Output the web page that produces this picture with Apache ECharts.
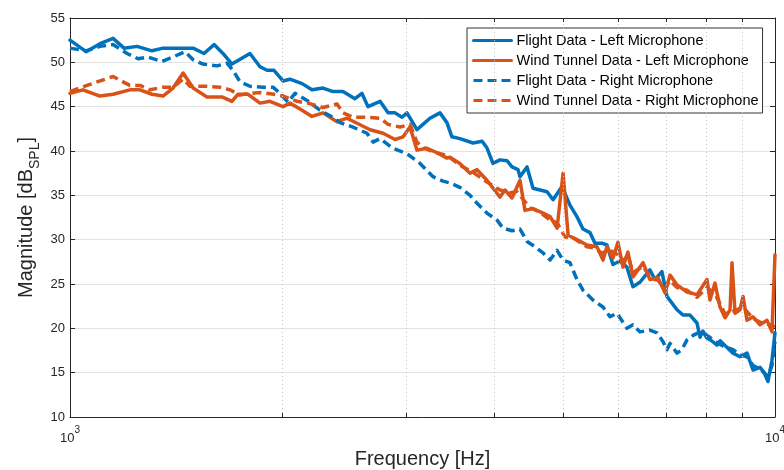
<!DOCTYPE html>
<html>
<head>
<meta charset="utf-8">
<title>Magnitude spectra</title>
<script src="https://cdn.jsdelivr.net/npm/echarts@6/dist/echarts.min.js"></script>
<style>
  html, body { margin: 0; padding: 0; background: #fff; }
  #chart { width: 784px; height: 470px; }
</style>
</head>
<body>
<div id="chart"></div>
<script>
const seriesNames = [
  'Flight Data - Left Microphone',
  'Wind Tunnel Data - Left Microphone',
  'Flight Data - Right Microphone',
  'Wind Tunnel Data - Right Microphone'
]

// values, frequency in Hz / magnitude in dB
const flightLeftHz = [1000, 1054, 1103, 1151, 1193, 1245, 1307, 1355, 1495, 1549, 1601, 1648, 1697, 1800, 1860, 1903, 1947, 2005, 2051, 2134, 2204, 2285, 2361, 2439, 2536, 2595, 2647, 2753, 2826, 2891, 2958, 3006, 3105, 3167, 3240, 3348, 3425, 3481, 3573, 3730, 3842, 3900, 3981, 4073, 4168, 4236, 4320, 4348, 4449, 4537, 4750, 4844, 4875, 4988, 5118, 5237, 5341, 5464, 5555, 5683, 5776, 5890, 6026, 6166, 6288, 6433, 6646, 6756, 6912, 7026, 7261, 7404, 7576, 7751, 7828, 7900, 8008, 8130, 8274, 8360, 8437, 8718, 8920, 9127, 9308, 9522, 9650, 9774, 9902, 10000]
const flightLeftDb = [52.5, 51.2, 52.1, 52.7, 51.6, 51.8, 51.3, 51.6, 51.6, 51.0, 52.0, 51.0, 49.8, 51.0, 49.5, 49.1, 49.1, 47.9, 48.1, 47.6, 46.9, 47.1, 46.7, 46.7, 45.9, 46.5, 45.0, 45.6, 44.3, 44.3, 43.8, 44.3, 42.4, 43.0, 43.7, 44.3, 43.2, 41.6, 41.4, 40.9, 41.1, 40.4, 38.6, 39.0, 38.9, 38.2, 37.9, 37.1, 38.2, 35.8, 35.4, 34.5, 34.3, 36.0, 33.9, 32.6, 31.2, 30.8, 29.6, 29.6, 29.4, 27.2, 27.6, 26.9, 24.7, 25.2, 26.6, 25.5, 26.4, 23.6, 22.1, 21.5, 21.5, 20.6, 19.0, 19.7, 18.9, 18.6, 18.1, 18.6, 18.3, 17.2, 16.8, 17.2, 15.3, 15.6, 15.0, 14.0, 16.4, 19.5]

const tunnelLeftHz = [1000, 1043, 1103, 1151, 1216, 1257, 1307, 1355, 1400, 1447, 1495, 1564, 1643, 1697, 1731, 1788, 1860, 1921, 2005, 2051, 2134, 2204, 2285, 2392, 2471, 2665, 2780, 2891, 2968, 3036, 3105, 3210, 3317, 3425, 3459, 3573, 3694, 3779, 3903, 4073, 4140, 4236, 4348, 4419, 4537, 4688, 4797, 4908, 5005, 5088, 5237, 5411, 5591, 5702, 5776, 5890, 5987, 6086, 6186, 6288, 6498, 6646, 6823, 6982, 7097, 7261, 7502, 7751, 8008, 8087, 8220, 8356, 8494, 8635, 8690, 8776, 8920, 9009, 9127, 9308, 9522, 9743, 9902, 10000]
const tunnelLeftDb = [46.5, 46.9, 46.2, 46.4, 46.9, 46.9, 46.4, 46.2, 47.1, 48.8, 47.1, 46.1, 46.1, 45.6, 46.4, 46.4, 45.4, 45.6, 45.0, 45.4, 44.6, 43.9, 44.3, 43.3, 43.7, 42.4, 42.0, 41.3, 41.6, 42.7, 40.1, 40.3, 39.8, 39.2, 39.3, 38.6, 37.5, 37.9, 36.7, 34.8, 35.6, 34.7, 36.7, 33.3, 33.5, 33.0, 32.6, 31.3, 37.5, 30.5, 30.0, 29.4, 29.2, 27.7, 29.2, 27.9, 29.7, 26.9, 28.6, 25.8, 27.4, 25.5, 25.7, 24.0, 26.0, 24.9, 24.1, 23.8, 25.5, 23.2, 25.1, 22.4, 21.2, 22.1, 27.4, 21.7, 22.1, 23.6, 20.9, 21.3, 20.4, 20.9, 19.6, 28.3]

const flightRightHz = [1000, 1054, 1103, 1151, 1205, 1249, 1290, 1350, 1400, 1456, 1495, 1544, 1616, 1670, 1703, 1742, 1800, 1878, 1941, 1986, 2038, 2085, 2169, 2262, 2361, 2415, 2520, 2638, 2691, 2753, 2872, 3006, 3137, 3273, 3381, 3459, 3573, 3694, 3779, 3903, 4034, 4114, 4236, 4348, 4449, 4566, 4688, 4797, 4908, 5005, 5118, 5237, 5341, 5518, 5702, 5834, 5968, 6166, 6288, 6433, 6646, 6800, 6936, 7026, 7097, 7261, 7380, 7502, 7651, 7828, 8008, 8274, 8437, 8718, 8920, 9127, 9308, 9522, 9774, 9902, 10000]
const flightRightDb = [51.6, 51.3, 51.8, 52.0, 51.0, 50.4, 50.6, 50.1, 50.6, 51.2, 50.3, 49.8, 49.6, 49.9, 49.1, 47.8, 47.3, 47.2, 47.2, 46.5, 45.5, 46.5, 45.7, 44.6, 43.8, 43.2, 42.7, 42.0, 41.0, 41.4, 40.3, 39.7, 38.6, 37.1, 36.6, 36.4, 35.9, 35.0, 34.1, 33.0, 32.2, 31.3, 31.0, 31.2, 29.8, 29.2, 28.5, 27.7, 28.8, 27.7, 27.4, 25.5, 24.3, 23.2, 22.4, 21.3, 21.7, 20.0, 20.4, 19.6, 19.8, 19.5, 18.5, 17.6, 18.3, 17.2, 17.6, 18.7, 19.2, 19.6, 19.2, 18.4, 18.0, 17.6, 17.0, 16.8, 15.8, 15.4, 14.6, 15.8, 18.5]

const tunnelRightHz = [1000, 1057, 1151, 1189, 1216, 1257, 1299, 1355, 1400, 1447, 1480, 1564, 1632, 1686, 1742, 1800, 1860, 1947, 2005, 2099, 2176, 2285, 2392, 2439, 2520, 2638, 2753, 2826, 2938, 3036, 3105, 3167, 3273, 3425, 3573, 3609, 3730, 3903, 4073, 4209, 4305, 4494, 4642, 4797, 4908, 5037, 5170, 5411, 5518, 5683, 5834, 5987, 6086, 6186, 6288, 6498, 6646, 6823, 6982, 7097, 7261, 7502, 7751, 8008, 8220, 8494, 8776, 9009, 9308, 9522, 9743, 10000]
const tunnelRightDb = [46.7, 47.4, 48.4, 47.8, 47.4, 47.4, 46.9, 47.2, 47.2, 48.1, 47.3, 47.3, 47.2, 46.9, 46.3, 46.5, 46.6, 46.4, 46.2, 45.6, 45.4, 44.9, 45.3, 44.3, 43.8, 43.8, 43.7, 43.0, 42.7, 43.0, 41.0, 40.4, 39.9, 39.5, 38.4, 38.2, 37.6, 36.5, 35.6, 35.3, 35.4, 33.6, 33.1, 32.2, 31.9, 30.3, 30.2, 29.2, 29.1, 28.5, 28.8, 28.3, 27.6, 28.2, 26.3, 27.0, 25.8, 25.4, 24.5, 25.4, 24.6, 24.3, 23.5, 24.6, 23.9, 21.6, 22.0, 22.4, 21.1, 20.7, 20.5, 20.2]

const minorTicksHz = [2000, 3000, 4000, 5000, 6000, 7000, 8000, 9000]
const yTicks = [10, 15, 20, 25, 30, 35, 40, 45, 50, 55]

const blue = '#0072BD'
const orange = '#D95319'
const ink = '#262626'
const font = 'Liberation Sans, Arial, Helvetica, sans-serif'

function pairs(xs, ys) {
  return xs.map((x, i) => [x, ys[i]])
}

const yMin = yTicks[0]
const yMax = yTicks[yTicks.length - 1]
const yStep = yTicks[1] - yTicks[0]

// minor grid: dotted verticals plus short inward ticks top and bottom
const minorLines = []
minorTicksHz.forEach(f => {
  minorLines.push([{ coord: [f, yMin], lineStyle: { color: '#c4c4c4', type: [1, 3], width: 1 } }, { coord: [f, yMax] }])
  minorLines.push([{ coord: [f, yMin], lineStyle: { color: ink, type: 'solid', width: 1 } }, { coord: [f, yMin + 0.45] }])
  minorLines.push([{ coord: [f, yMax - 0.45], lineStyle: { color: ink, type: 'solid', width: 1 } }, { coord: [f, yMax] }])
})

function lineSeries(name, data, color, dashed) {
  return {
    name: name,
    type: 'line',
    data: data,
    showSymbol: false,
    symbol: 'none',
    xAxisIndex: 0,
    yAxisIndex: 0,
    lineStyle: {
      color: color,
      width: 3.5,
      type: dashed ? [9, 5] : 'solid',
      cap: dashed ? 'butt' : 'round',
      join: 'round'
    },
    itemStyle: { color: color },
    emphasis: { disabled: true },
    z: 3
  }
}

const chart = echarts.init(document.getElementById('chart'))
chart.setOption({
  animation: false,
  backgroundColor: '#fff',
  textStyle: { fontFamily: font },
  grid: { left: 70, right: 9, top: 18, bottom: 53, containLabel: false, outerBoundsMode: 'none' },
  legend: {
    data: seriesNames,
    orient: 'vertical',
    left: 467,
    top: 28,
    padding: [5, 4, 5, 5],
    itemWidth: 38,
    itemHeight: 14,
    itemGap: 5,
    backgroundColor: '#fff',
    borderColor: '#333',
    borderWidth: 1,
    itemStyle: { opacity: 0 },
    lineStyle: { width: 3 },
    textStyle: { fontSize: 14.5, color: '#000', fontFamily: font },
    selectedMode: false
  },
  xAxis: [
    {
      type: 'log',
      logBase: 10,
      min: 1000,
      max: 10000,
      name: 'Frequency [Hz]',
      nameLocation: 'middle',
      nameGap: 32,
      nameMoveOverlap: false,
      nameTextStyle: { fontSize: 20, color: ink },
      axisLine: { show: true, lineStyle: { color: ink, width: 1 } },
      axisTick: { show: false },
      splitLine: { show: false },
      axisLabel: {
        margin: 8,
        color: ink,
        formatter: v => '{b|10}{e|' + Math.round(Math.log10(v)) + '}',
        rich: {
          b: { fontSize: 13, color: ink, padding: [7, 0, 0, 0] },
          e: { fontSize: 10, color: ink, verticalAlign: 'top' }
        }
      }
    },
    {
      type: 'log',
      logBase: 10,
      min: 1000,
      max: 10000,
      position: 'top',
      axisLine: { show: true, lineStyle: { color: ink, width: 1 } },
      axisTick: { show: false },
      axisLabel: { show: false },
      splitLine: { show: false }
    }
  ],
  yAxis: [
    {
      type: 'value',
      min: yMin,
      max: yMax,
      interval: yStep,
      name: '{m|Magnitude [dB}{s|SPL}{m|]}',
      nameLocation: 'middle',
      nameRotate: 90,
      nameGap: 28,
      nameMoveOverlap: false,
      nameTextStyle: {
        color: ink,
        rich: {
          m: { fontSize: 20, color: ink, padding: [0, 0, 6, 0], verticalAlign: 'bottom' },
          s: { fontSize: 14, color: ink, verticalAlign: 'bottom' }
        }
      },
      axisLine: { show: true, lineStyle: { color: ink, width: 1 } },
      axisTick: { show: true, inside: true, length: 5, lineStyle: { color: ink } },
      axisLabel: { fontSize: 13, color: ink, margin: 5 },
      splitLine: { show: true, lineStyle: { color: '#e3e3e3', width: 1 } }
    },
    {
      type: 'value',
      min: yMin,
      max: yMax,
      interval: yStep,
      position: 'right',
      axisLine: { show: true, lineStyle: { color: ink, width: 1 } },
      axisTick: { show: true, inside: true, length: 5, lineStyle: { color: ink } },
      axisLabel: { show: false },
      splitLine: { show: false }
    }
  ],
  series: [
    {
      name: 'minor grid',
      type: 'line',
      data: [],
      xAxisIndex: 0,
      yAxisIndex: 0,
      silent: true,
      z: 1,
      markLine: {
        silent: true,
        symbol: ['none', 'none'],
        label: { show: false },
        animation: false,
        data: minorLines
      }
    },
    lineSeries(seriesNames[0], pairs(flightLeftHz, flightLeftDb), blue, false),
    lineSeries(seriesNames[1], pairs(tunnelLeftHz, tunnelLeftDb), orange, false),
    lineSeries(seriesNames[2], pairs(flightRightHz, flightRightDb), blue, true),
    lineSeries(seriesNames[3], pairs(tunnelRightHz, tunnelRightDb), orange, true)
  ]
})
</script>
</body>
</html>
